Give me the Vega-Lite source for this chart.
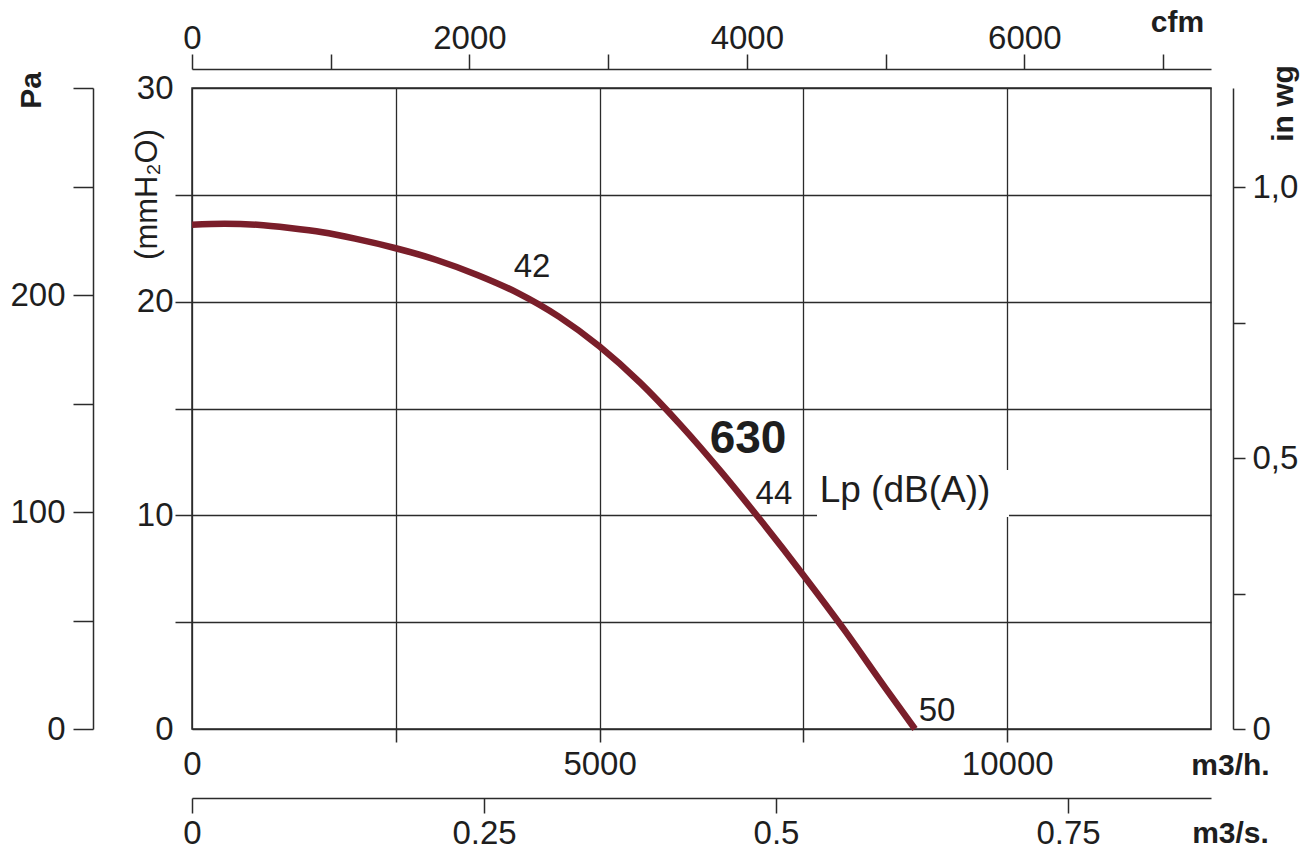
{
  "$schema": "https://vega.github.io/schema/vega-lite/v6.json",
  "width": 1019,
  "height": 641,
  "autosize": {"type": "none"},
  "padding": {"left": 192, "top": 88, "right": 92, "bottom": 121},
  "background": "white",
  "config": {
    "view": {"stroke": "#2b2b2b", "strokeWidth": 1.5},
    "axis": {
      "labelFont": "Liberation Sans", "labelFontSize": 33, "labelColor": "#1e1e1e",
      "titleFont": "Liberation Sans", "titleFontSize": 30, "titleColor": "#1e1e1e",
      "domainColor": "#2b2b2b", "domainWidth": 1.5,
      "tickColor": "#2b2b2b", "tickWidth": 1.5,
      "gridColor": "#2b2b2b", "gridWidth": 1.3, "gridOpacity": 1,
      "labelOverlap": false, "labelFlush": false, "labelBound": false
    },
    "text": {"font": "Liberation Sans", "color": "#1e1e1e"}
  },
  "resolve": {
    "scale": {"x": "independent", "y": "independent"},
    "axis": {"x": "independent", "y": "independent"}
  },
  "layer": [
    {
      "layer": [
        {
          "data": {"values": [{}]},
          "mark": {"type": "rect", "color": "white"},
          "encoding": {
            "x": {"datum": 7667, "type": "quantitative"},
            "x2": {"datum": 10022},
            "y": {"datum": 9.92, "type": "quantitative"},
            "y2": {"datum": 12.12}
          }
        },
        {
          "data": {"values": [
            {"Q": 0, "P": 23.6},
            {"Q": 400, "P": 23.65},
            {"Q": 800, "P": 23.6},
            {"Q": 1200, "P": 23.45},
            {"Q": 1600, "P": 23.25},
            {"Q": 2000, "P": 22.95},
            {"Q": 2500, "P": 22.5},
            {"Q": 3000, "P": 21.95},
            {"Q": 3500, "P": 21.25},
            {"Q": 4000, "P": 20.4},
            {"Q": 4500, "P": 19.3},
            {"Q": 5000, "P": 17.9},
            {"Q": 5500, "P": 16.2},
            {"Q": 6000, "P": 14.2},
            {"Q": 6500, "P": 12.0},
            {"Q": 7000, "P": 9.65},
            {"Q": 7500, "P": 7.2},
            {"Q": 8000, "P": 4.65},
            {"Q": 8500, "P": 1.95},
            {"Q": 8869, "P": 0}
          ]},
          "mark": {"type": "line", "color": "#7a1e2a", "strokeWidth": 6.5, "interpolate": "monotone"},
          "encoding": {
            "x": {
              "field": "Q", "type": "quantitative",
              "scale": {"domain": [0, 12500], "nice": false, "zero": false},
              "axis": {
                "orient": "bottom", "values": [0, 2500, 5000, 7500, 10000], "grid": true, "domain": false,
                "tickSize": 13,
                "tickOpacity": {"condition": {"test": "datum.value === 0", "value": 0}, "value": 1},
                "labelExpr": "datum.value % 5000 === 0 ? datum.label : ''", "format": "d", "labelPadding": 6,
                "title": "m3/h.", "titleX": 1038, "titleY": 36, "titleAlign": "center", "titleBaseline": "middle",
                "titleFontWeight": "bold"
              }
            },
            "y": {
              "field": "P", "type": "quantitative",
              "scale": {"domain": [0, 30], "nice": false, "zero": false},
              "axis": {
                "orient": "left", "values": [0, 5, 10, 15, 20, 25, 30], "grid": true, "domain": false,
                "tickSize": 17,
                "tickOpacity": {"condition": {"test": "datum.value === 0 || datum.value === 30", "value": 0}, "value": 1},
                "labelExpr": "datum.value % 10 === 0 ? datum.label : ''", "labelPadding": 2,
                "title": "(mmH₂O)", "titleAngle": 270, "titleX": -45, "titleY": 106,
                "titleAlign": "center", "titleBaseline": "middle", "titleFontWeight": "normal", "titleFontSize": 31
              }
            }
          }
        },
        {
          "data": {"values": [
            {"label": "42", "Q": 4171, "P": 21.62},
            {"label": "44", "Q": 7139, "P": 11.0},
            {"label": "50", "Q": 9139, "P": 0.84}
          ]},
          "mark": {"type": "text", "fontSize": 33, "align": "center", "baseline": "middle"},
          "encoding": {
            "x": {"field": "Q", "type": "quantitative"},
            "y": {"field": "P", "type": "quantitative"},
            "text": {"field": "label"}
          }
        },
        {
          "data": {"values": [{"label": "630", "Q": 6821, "P": 13.57}]},
          "mark": {"type": "text", "fontSize": 46, "fontWeight": "bold", "align": "center", "baseline": "middle"},
          "encoding": {
            "x": {"field": "Q", "type": "quantitative"},
            "y": {"field": "P", "type": "quantitative"},
            "text": {"field": "label"}
          }
        },
        {
          "data": {"values": [{"label": "Lp (dB(A))", "Q": 8746, "P": 11.14}]},
          "mark": {"type": "text", "fontSize": 37, "align": "center", "baseline": "middle"},
          "encoding": {
            "x": {"field": "Q", "type": "quantitative"},
            "y": {"field": "P", "type": "quantitative"},
            "text": {"field": "label"}
          }
        }
      ]
    },
    {
      "data": {"values": [{}]},
      "mark": {"type": "point", "opacity": 0},
      "encoding": {
        "y": {
          "datum": 0, "type": "quantitative",
          "scale": {"domain": [0, 295.6], "nice": false, "zero": false},
          "axis": {
            "orient": "left", "offset": 99, "values": [0, 50, 100, 150, 200, 250, 295.6],
            "tickSize": 20, "labelPadding": 8,
            "labelExpr": "datum.value % 100 === 0 ? datum.label : ''",
            "title": "Pa", "titleAngle": 270, "titleX": -62, "titleY": 2,
            "titleAlign": "center", "titleBaseline": "middle", "titleFontWeight": "bold"
          }
        }
      }
    },
    {
      "data": {"values": [{}]},
      "mark": {"type": "point", "opacity": 0},
      "encoding": {
        "y": {
          "datum": 0, "type": "quantitative",
          "scale": {"domain": [0, 1.183], "nice": false, "zero": false},
          "axis": {
            "orient": "right", "offset": 22, "values": [0, 0.25, 0.5, 0.75, 1],
            "tickSize": 12, "labelPadding": 7,
            "labelExpr": "datum.value === 0 ? '0' : datum.value === 0.5 ? '0,5' : datum.value === 1 ? '1,0' : ''",
            "title": "in wg", "titleAngle": 270, "titleX": 50, "titleY": 15,
            "titleAlign": "center", "titleBaseline": "middle", "titleFontWeight": "bold"
          }
        }
      }
    },
    {
      "data": {"values": [{}]},
      "mark": {"type": "point", "opacity": 0},
      "encoding": {
        "x": {
          "datum": 0, "type": "quantitative",
          "scale": {"domain": [0, 7346], "nice": false, "zero": false},
          "axis": {
            "orient": "top", "offset": 19, "values": [0, 1000, 2000, 3000, 4000, 5000, 6000, 7000],
            "tickSize": 15, "labelPadding": 6, "labelBaseline": "alphabetic", "format": "d",
            "labelExpr": "datum.value % 2000 === 0 ? datum.label : ''",
            "title": "cfm", "titleX": 985, "titleY": -47,
            "titleAlign": "center", "titleBaseline": "middle", "titleFontWeight": "bold"
          }
        }
      }
    },
    {
      "data": {"values": [{}]},
      "mark": {"type": "point", "opacity": 0},
      "encoding": {
        "x": {
          "datum": 0, "type": "quantitative",
          "scale": {"domain": [0, 0.8724], "nice": false, "zero": false},
          "axis": {
            "orient": "bottom", "offset": 69, "values": [0, 0.25, 0.5, 0.75],
            "tickSize": 15, "labelPadding": 4, "format": ".2~f",
            "title": "m3/s.", "titleX": 1038, "titleY": 35,
            "titleAlign": "center", "titleBaseline": "middle", "titleFontWeight": "bold"
          }
        }
      }
    }
  ]
}
